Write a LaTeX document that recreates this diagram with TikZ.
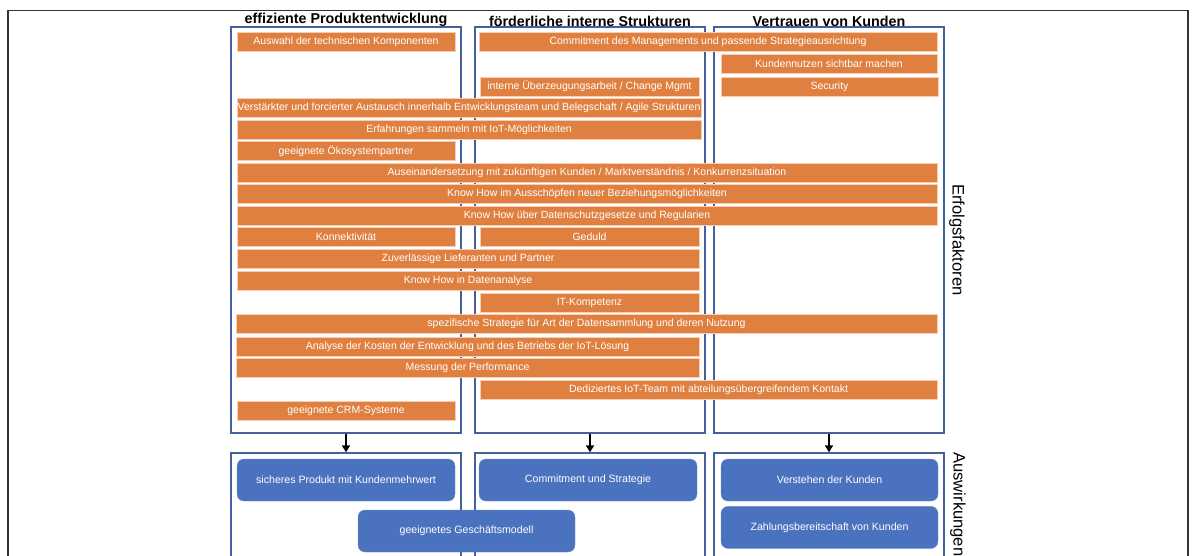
\documentclass[tikz,border=0pt]{standalone}
\usepackage{fontspec}
\setmainfont{Liberation Sans}
\usetikzlibrary{arrows.meta,positioning}

\definecolor{fakorange}{RGB}{224,128,64}
\definecolor{fakrand}{RGB}{248,206,178}
\definecolor{wirkblau}{RGB}{74,114,190}
\definecolor{spaltblau}{RGB}{68,96,160}

\begin{document}
\begin{tikzpicture}[x=1pt,y=-1pt,>={Triangle[length=7pt,width=8pt]},
    fak/.style={fill=fakorange,draw=fakrand,line width=0.8pt,text=white,
        inner sep=0pt,minimum height=19pt,font=\fontsize{10.5}{12}\selectfont},
    wirk/.style={fill=wirkblau,draw=wirkblau!80!white,rounded corners=7pt,text=white,
        inner sep=0pt,minimum height=42pt,font=\fontsize{10.6}{12}\selectfont},
    spalte/.style={draw=spaltblau,line width=1.3pt,inner sep=0pt,minimum width=230pt},
    kopf/.style={inner sep=0pt,font=\fontsize{14.3}{16}\selectfont\bfseries},
    seite/.style={rotate=-90,inner sep=0pt,font=\fontsize{16.6}{18}\selectfont}]

                \useasboundingbox (0,0) rectangle (1194,555);
                \clip (0,0) rectangle (1194,555);

                \draw[line width=1.2pt,black!80] (8,10.5) rectangle (1188,620);

                % Spalten
                \node[spalte,minimum height=406pt] (oben1) at (346,230) {};
                \node[spalte,minimum height=406pt] (oben2) at (590,230) {};
                \node[spalte,minimum height=406pt] (oben3) at (829,230) {};
                \node[spalte,minimum height=147pt] (unten1) at (346,526.5) {};
                \node[spalte,minimum height=147pt] (unten2) at (590,526.5) {};
                \node[spalte,minimum height=147pt] (unten3) at (829,526.5) {};

                \node[kopf] (kopf1) [above=0pt of oben1] {effiziente Produktentwicklung};
                \node[kopf] (kopf2) [above=0pt of oben2] {förderliche interne Strukturen};
                \node[kopf] (kopf3) [above=0pt of oben3] {Vertrauen von Kunden};

                % Erfolgsfaktoren
                \node[fak,minimum width=218pt] (auswahl) at (346,41.5) {Auswahl der technischen Komponenten};
                \node[fak,minimum width=458pt] (commit) at (708,41.5) {Commitment des Managements und passende Strategieausrichtung};
                \node[fak,minimum width=216pt] (nutzen) at (829,64) {Kundennutzen sichtbar machen};
                \node[fak,minimum width=217pt] (security) at (829.5,86.5) {Security};
                \node[fak,minimum width=219pt] (ueberz) at (589.5,86.5) {interne Überzeugungsarbeit / Change Mgmt};
                \node[fak,minimum width=464pt] (austausch) at (469,108) {Verstärkter und forcierter Austausch innerhalb Entwicklungsteam und Belegschaft / Agile Strukturen};
                \node[fak,minimum width=464pt] (erfahrung) at (469,129.5) {Erfahrungen sammeln mit IoT-Möglichkeiten};
                \node[fak,minimum width=218pt] (oekosys) at (346,151) {geeignete Ökosystempartner};
                \node[fak,minimum width=700pt] (markt) at (587,172.5) {Auseinandersetzung mit zukünftigen Kunden / Marktverständnis / Konkurrenzsituation};
                \node[fak,minimum width=700pt] (beziehung) at (587,194) {Know How im Ausschöpfen neuer Beziehungsmöglichkeiten};
                \node[fak,minimum width=700pt] (datenschutz) at (587,215.5) {Know How über Datenschutzgesetze und Regularien};
                \node[fak,minimum width=218pt] (konnekt) at (346,237) {Konnektivität};
                \node[fak,minimum width=219pt] (geduld) at (589.5,237) {Geduld};
                \node[fak,minimum width=462pt] (lieferant) at (468,258.5) {Zuverlässige Lieferanten und Partner};
                \node[fak,minimum width=462pt] (datenanalyse) at (468,280.5) {Know How in Datenanalyse};
                \node[fak,minimum width=219pt] (itkomp) at (589.5,302.5) {IT-Kompetenz};
                \node[fak,minimum width=701pt] (strategie) at (586.5,324) {spezifische Strategie für Art der Datensammlung und deren Nutzung};
                \node[fak,minimum width=463pt] (kosten) at (467.5,346.5) {Analyse der Kosten der Entwicklung und des Betriebs der IoT-Lösung};
                \node[fak,minimum width=463pt] (messung) at (467.5,367.5) {Messung der Performance};
                \node[fak,minimum width=457pt] (team) at (708.5,389.5) {Dediziertes IoT-Team mit abteilungsübergreifendem Kontakt};
                \node[fak,minimum width=218pt] (crm) at (346,411) {geeignete CRM-Systeme};

                \node[seite] (erfolg) at (957,240) {Erfolgsfaktoren};

                % Auswirkungen
                \node[wirk,minimum width=218pt] (produkt) at (346,480) {sicheres Produkt mit Kundenmehrwert};
                \node[wirk,minimum width=218pt] (commitstrat) at (588,480) {Commitment und Strategie};
                \node[wirk,minimum width=217pt] (geschaeft) at (466.5,531) {geeignetes Geschäftsmodell};
                \node[wirk,minimum width=217pt] (verstehen) at (829.5,480) {Verstehen der Kunden};
                \node[wirk,minimum width=217pt] (zahlung) [below=5pt of verstehen] {Zahlungsbereitschaft von Kunden};

                \node[seite,anchor=west] (auswirk) at (958,452) {Auswirkungen};

                \path[->,line width=1.6pt] (oben1) edge (unten1)
                                           (oben2) edge (unten2)
                                           (oben3) edge (unten3);

            \end{tikzpicture}
\end{document}
